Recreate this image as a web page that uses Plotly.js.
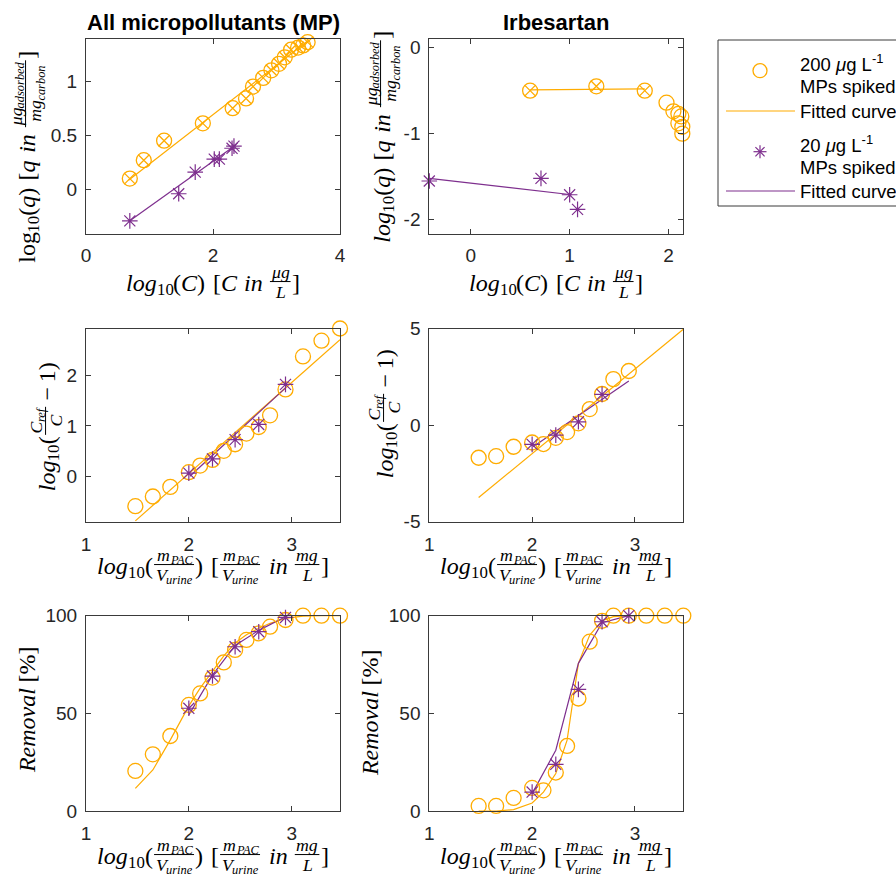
<!DOCTYPE html>
<html><head><meta charset="utf-8">
<script src="https://cdn.plot.ly/plotly-3.0.1.min.js"></script>
<style>body{margin:0;background:#fff}</style>
</head><body><div id="chart" style="width:896px;height:877px"></div>
<script>
// ---------------- DATA ----------------
// Row 1: isotherms (log10 q vs log10 C)
const mpIsoX200 = [0.69,0.91,1.23,1.84,2.31,2.52,2.63,2.79,2.92,3.04,3.13,3.23,3.34,3.42,3.49];
const mpIsoY200 = [0.10,0.27,0.45,0.61,0.75,0.84,0.95,1.03,1.10,1.16,1.22,1.29,1.31,1.33,1.36];
const mpIsoFitX200 = [0.67,3.49];
const mpIsoFitY200 = [0.085,1.37];
const mpIsoX20 = [0.69,1.46,1.72,2.02,2.10,2.30,2.33];
const mpIsoY20 = [-0.29,-0.04,0.16,0.28,0.28,0.38,0.40];
const mpIsoFitX20 = [0.69,2.36];
const mpIsoFitY20 = [-0.29,0.41];

const irbIsoX200 = [0.60,1.27,1.76,1.98,2.05,2.10,2.13,2.10,2.14,2.14];
const irbIsoY200 = [-0.50,-0.45,-0.50,-0.64,-0.74,-0.77,-0.80,-0.88,-0.92,-1.00];
const irbIsoFitted = [true,true,true,false,false,false,false,false,false,false];
const irbIsoFitX200 = [0.60,1.76];
const irbIsoFitY200 = [-0.49,-0.48];
const irbIsoX20 = [-0.42,0.71,1.00,1.08];
const irbIsoY20 = [-1.55,-1.52,-1.71,-1.88];
const irbIsoFitX20 = [-0.42,1.02];
const irbIsoFitY20 = [-1.52,-1.71];

// Rows 2-3 share the PAC dose axis
const dose200 = [1.48,1.65,1.82,2.00,2.11,2.23,2.34,2.45,2.56,2.68,2.79,2.94,3.11,3.29,3.47];
const dose20  = [2.00,2.23,2.45,2.68,2.94];

// Row 2: log10(Cref/C - 1)
const mpLinY200 = [-0.58,-0.39,-0.20,0.09,0.22,0.33,0.51,0.64,0.85,0.98,1.21,1.72,2.37,2.68,2.92];
const mpLinFitX200 = [1.48,3.47];
const mpLinFitY200 = [-0.87,2.70];
const mpLinY20 = [0.07,0.35,0.73,1.03,1.82];
const mpLinFitX20 = [2.01,2.94];
const mpLinFitY20 = [0.01,1.75];

const irbLinX200 = [1.48,1.65,1.82,2.00,2.11,2.23,2.34,2.45,2.56,2.68,2.79,2.94];
const irbLinY200 = [-1.69,-1.61,-1.12,-0.90,-0.98,-0.66,-0.36,0.09,0.83,1.61,2.38,2.80];
const irbLinFitX200 = [1.48,3.47];
const irbLinFitY200 = [-3.75,4.96];
const irbLinX20 = [2.00,2.23,2.45,2.68];
const irbLinY20 = [-1.00,-0.52,0.17,1.59];
const irbLinFitX20 = [2.01,2.94];
const irbLinFitY20 = [-1.12,2.28];

// Row 3: removal %
const mpRemY200 = [20.5,29,38.4,54.3,60.2,68.3,76.1,82.5,87.6,91,94.4,97.8,100,100,100];
const mpRemFit200 = [11.6,21,36.4,53.8,62.9,71.4,79.4,86,90.2,93.6,96.1,98.6,99.8,100,100];
const mpRemY20 = [52.6,69.1,84.1,91.8,99.1];
const mpRemFit20 = [49.2,69.6,84.8,92.5,99.5];

const irbRemY200 = [2.6,2.6,6.7,11.8,10.6,19.7,33.3,57.6,86.7,97.4,100,100,100,100,100];
const irbRemFit200 = [0,0,0.7,4.1,9.7,19.2,36.3,75.6,90.1,97.4,99.5,100,100,100,100];
const irbRemY20 = [9.7,23.9,62.3,96.9,100];
const irbRemFit20 = [8.9,31.1,75.6,96.4,100];

const panelTitles = ['All micropollutants (MP)', 'Irbesartan'];
const legendLabels = ['200 <i>μ</i>g L<sup>-1</sup>', 'MPs spiked', 'Fitted curve', '20 <i>μ</i>g L<sup>-1</sup>', 'MPs spiked', 'Fitted curve'];

// ---------------- STYLE ----------------
const W = 896, H = 877;
const ORANGE = '#FFAC00', PURPLE = '#7E2F8E', AX = '#3a3a3a';
const SANS = 'Liberation Sans, Arial, sans-serif';
const SERIF = 'Liberation Serif';

const traces = [];
function circles(x, y, n){ traces.push({type:'scatter',mode:'markers',x,y,xaxis:'x'+n,yaxis:'y'+n,cliponaxis:false,hoverinfo:'skip',
  marker:{symbol:'circle-open',size:15,color:ORANGE,line:{width:1.3,color:ORANGE}}}); }
function crosses(x, y, n){ traces.push({type:'scatter',mode:'markers',x,y,xaxis:'x'+n,yaxis:'y'+n,cliponaxis:false,hoverinfo:'skip',
  marker:{symbol:'x-thin-open',size:11,color:ORANGE,line:{width:1.3,color:ORANGE}}}); }
function stars(x, y, n){ traces.push({type:'scatter',mode:'markers',x,y,xaxis:'x'+n,yaxis:'y'+n,cliponaxis:false,hoverinfo:'skip',
  marker:{symbol:'asterisk-open',size:13,color:PURPLE,line:{width:1.2,color:PURPLE}}}); }
function line(x, y, n, c){ traces.push({type:'scatter',mode:'lines',x,y,xaxis:'x'+n,yaxis:'y'+n,cliponaxis:false,hoverinfo:'skip',
  line:{color:c,width:1.2}}); }

// panel 1
line(mpIsoFitX200, mpIsoFitY200, '', ORANGE); line(mpIsoFitX20, mpIsoFitY20, '', PURPLE);
circles(mpIsoX200, mpIsoY200, ''); crosses(mpIsoX200, mpIsoY200, ''); stars(mpIsoX20, mpIsoY20, '');
// panel 2
line(irbIsoFitX200, irbIsoFitY200, '2', ORANGE); line(irbIsoFitX20, irbIsoFitY20, '2', PURPLE);
circles(irbIsoX200, irbIsoY200, '2');
crosses(irbIsoX200.filter((v,i)=>irbIsoFitted[i]), irbIsoY200.filter((v,i)=>irbIsoFitted[i]), '2');
stars(irbIsoX20, irbIsoY20, '2');
// panel 3
line(mpLinFitX200, mpLinFitY200, '3', ORANGE); line(mpLinFitX20, mpLinFitY20, '3', PURPLE);
circles(dose200, mpLinY200, '3'); stars(dose20, mpLinY20, '3');
// panel 4
line(irbLinFitX200, irbLinFitY200, '4', ORANGE); line(irbLinFitX20, irbLinFitY20, '4', PURPLE);
circles(irbLinX200, irbLinY200, '4'); stars(irbLinX20, irbLinY20, '4');
// panel 5
line(dose200, mpRemFit200, '5', ORANGE); line(dose20, mpRemFit20, '5', PURPLE);
circles(dose200, mpRemY200, '5'); stars(dose20, mpRemY20, '5');
// panel 6
line(dose200, irbRemFit200, '6', ORANGE); line(dose20, irbRemFit20, '6', PURPLE);
circles(dose200, irbRemY200, '6'); stars(dose20, irbRemY20, '6');

// ---------------- AXES ----------------
const colX = [[86/W, 340/W],[429.3/W, 683.3/W]];
const rowY = [[1-233.5/H, 1-39/H],[1-521.7/H, 1-328.5/H],[1-811/H, 1-615.7/H]];
function axis(dom, anchor, range, vals, isX){
  return {domain:dom, anchor, range, tickvals:vals, ticktext:vals.map(v=>String(v)),
    showgrid:false, zeroline:false, showline:true, linecolor:AX, linewidth:1, mirror:'ticks',
    ticks:'inside', ticklen:5, tickwidth:1, tickcolor:AX, fixedrange:true,
    ticklabelstandoff: isX ? 5 : 4,
    tickfont:{family:SANS,size:19,color:'#262626'}};
}
const layout = {width:W, height:H, autosize:false, margin:{l:0,r:0,t:0,b:0,pad:0},
  paper_bgcolor:'#fff', plot_bgcolor:'#fff', showlegend:false,
  xaxis: axis(colX[0],'y',[0,4],[0,2,4],true),
  yaxis: axis(rowY[0],'x',[-0.407,1.389],[0,0.5,1],false),
  xaxis2: axis(colX[1],'y2',[-0.42,2.15],[0,1,2],true),
  yaxis2: axis(rowY[0],'x2',[-2.16,0.1],[-2,-1,0],false),
  xaxis3: axis(colX[0],'y3',[1,3.47],[1,2,3],true),
  yaxis3: axis(rowY[1],'x3',[-0.886,2.92],[0,1,2],false),
  xaxis4: axis(colX[1],'y4',[1,3.47],[1,2,3],true),
  yaxis4: axis(rowY[1],'x4',[-5,5],[-5,0,5],false),
  xaxis5: axis(colX[0],'y5',[1,3.47],[1,2,3],true),
  yaxis5: axis(rowY[2],'x5',[0,100],[0,50,100],false),
  xaxis6: axis(colX[1],'y6',[1,3.47],[1,2,3],true),
  yaxis6: axis(rowY[2],'x6',[0,100],[0,50,100],false),
  annotations:[], shapes:[]};
const ann = layout.annotations, shapes = layout.shapes;

// ---------------- MATH-LIKE AXIS TITLES ----------------
const cv = document.createElement('canvas'), ctx = cv.getContext('2d');
function measure(t, size, it){ ctx.font = (it?'italic ':'') + size + 'px "' + SERIF + '"'; return ctx.measureText(t).width; }
const I = t=>({t,it:true}), R = t=>({t,it:false}), SUB = (...a)=>({sub:a}), G = e=>({gap:e}), FR = (n,d)=>({num:n,den:d});
const SUBDY=0.28, FRS=0.74, BARY=-0.06, NUMD=0.40, DEND=0.42;
function layoutRow(items, F){
  let x=0; const runs=[], bars=[];
  for(const it of items){
    if(it.gap!==undefined){ x+=it.gap*F; continue; }
    if(it.sub){ const L=layoutRow(it.sub,F*0.7);
      L.runs.forEach(r=>runs.push({...r,x:r.x+x,dy:r.dy+SUBDY*F}));
      L.bars.forEach(b=>bars.push({x0:b.x0+x,x1:b.x1+x,y:b.y+SUBDY*F}));
      x+=L.w; continue; }
    if(it.num){ const s=F*FRS, N=layoutRow(it.num,s), D=layoutRow(it.den,s);
      const pad=0.12*F, w=Math.max(N.w,D.w)+2*pad, by=BARY*F;
      N.runs.forEach(r=>runs.push({...r,x:r.x+x+(w-N.w)/2,dy:r.dy+by-NUMD*F}));
      D.runs.forEach(r=>runs.push({...r,x:r.x+x+(w-D.w)/2,dy:r.dy+by+DEND*F}));
      bars.push({x0:x+0.06*F,x1:x+w-0.06*F,y:by});
      x+=w; continue; }
    const w=measure(it.t,F,it.it); runs.push({t:it.t,it:it.it,size:F,x,dy:0}); x+=w;
  }
  return {runs,bars,w:x};
}
function addTitle(items, F, cx, cy, rot){
  const L=layoutRow(items,F);
  L.runs.forEach(r=>{
    const txt = r.it ? '<i>'+r.t+'</i>' : r.t;
    const base = {xref:'paper',yref:'paper',text:txt,showarrow:false,borderpad:0,borderwidth:0,
      font:{family:SERIF,size:r.size,color:'#000'}};
    if(!rot) ann.push({...base,x:(cx-L.w/2+r.x)/W,y:1-(cy+r.dy)/H,xanchor:'left',yanchor:'middle'});
    else ann.push({...base,x:(cx+r.dy)/W,y:1-(cy+L.w/2-r.x)/H,xanchor:'center',yanchor:'bottom',textangle:-90});
  });
  L.bars.forEach(b=>{
    if(!rot) shapes.push({type:'line',xref:'paper',yref:'paper',x0:(cx-L.w/2+b.x0)/W,x1:(cx-L.w/2+b.x1)/W,
      y0:1-(cy+b.y)/H,y1:1-(cy+b.y)/H,line:{color:'#000',width:1}});
    else shapes.push({type:'line',xref:'paper',yref:'paper',x0:(cx+b.y)/W,x1:(cx+b.y)/W,
      y0:1-(cy+L.w/2-b.x0)/H,y1:1-(cy+L.w/2-b.x1)/H,line:{color:'#000',width:1}});
  });
}
const FT = 24;
const xIso = [I('log'),SUB(R('10')),R('('),I('C'),R(')'),G(0.3),R('['),I('C'),G(0.3),I('in'),G(0.25),FR([I('μg')],[I('L')]),R(']')];
const fracMV = ()=>FR([I('m'),SUB(I('PAC'))],[I('V'),SUB(I('urine'))]);
const xDose = [I('log'),SUB(R('10')),R('('),fracMV(),R(')'),G(0.3),R('['),fracMV(),G(0.3),I('in'),G(0.25),FR([I('mg')],[I('L')]),R(']')];
const yIso = lg=>[lg,SUB(R('10')),R('('),I('q'),R(')'),G(0.3),R('['),I('q'),G(0.3),I('in'),G(0.25),
  FR([I('μg'),SUB(I('adsorbed'))],[I('mg'),SUB(I('carbon'))]),R(']')];
const yLin = [I('log'),SUB(R('10')),R('('),FR([I('C'),SUB(I('ref'))],[I('C')]),G(0.2),R('−'),G(0.2),R('1)')];
const yRem = [I('Removal'),G(0.3),R('[%]')];

addTitle(xIso, FT, 213, 283, false); addTitle(xIso, FT, 556, 283, false);
addTitle(xDose, FT, 213, 566, false); addTitle(xDose, FT, 556, 566, false);
addTitle(xDose, FT, 213, 856, false); addTitle(xDose, FT, 556, 856, false);
addTitle(yIso(R('log')), FT, 27, 157, true); addTitle(yIso(I('log')), FT, 382, 137, true);
addTitle(yLin, FT, 47, 427, true); addTitle(yLin, FT, 385, 414, true);
addTitle(yRem, FT, 27, 710, true); addTitle(yRem, FT, 370, 713, true);

// panel titles
ann.push({xref:'paper',yref:'paper',x:213/W,y:1-22/H,xanchor:'center',yanchor:'middle',showarrow:false,
  text:'<b>'+panelTitles[0]+'</b>',font:{family:SANS,size:22,color:'#000'}});
ann.push({xref:'paper',yref:'paper',x:556/W,y:1-22/H,xanchor:'center',yanchor:'middle',showarrow:false,
  text:'<b>'+panelTitles[1]+'</b>',font:{family:SANS,size:22,color:'#000'}});

// ---------------- LEGEND (drawn) ----------------
shapes.push({type:'rect',xref:'paper',yref:'paper',x0:718/W,x1:(W+20)/W,y0:1-206/H,y1:1-40/H,
  line:{color:AX,width:1},fillcolor:'rgba(255,255,255,1)',layer:'below'});
const legY = [63, 87, 111, 144, 167, 191];
legendLabels.forEach((t,i)=>ann.push({xref:'paper',yref:'paper',x:800/W,y:1-legY[i]/H,xanchor:'left',yanchor:'middle',
  showarrow:false,text:t,font:{family:SANS,size:18.5,color:'#000'},borderpad:0,borderwidth:0}));
shapes.push({type:'circle',xref:'paper',yref:'paper',xsizemode:'pixel',ysizemode:'pixel',xanchor:760/W,yanchor:1-70.7/H,
  x0:-7,x1:7,y0:-7,y1:7,line:{color:ORANGE,width:1.3}});
shapes.push({type:'line',xref:'paper',yref:'paper',x0:726/W,x1:795/W,y0:1-111/H,y1:1-111/H,line:{color:ORANGE,width:1.2}});
[[0,6.5],[6.5,0],[4.6,4.6],[4.6,-4.6]].forEach(([dx,dy])=>shapes.push({type:'line',xref:'paper',yref:'paper',
  xsizemode:'pixel',ysizemode:'pixel',xanchor:760/W,yanchor:1-151.7/H,x0:-dx,x1:dx,y0:-dy,y1:dy,line:{color:PURPLE,width:1.2}}));
shapes.push({type:'line',xref:'paper',yref:'paper',x0:726/W,x1:795/W,y0:1-191/H,y1:1-191/H,line:{color:PURPLE,width:1.2}});

Plotly.newPlot('chart', traces, layout, {displayModeBar:false, staticPlot:true});
</script></body></html>
